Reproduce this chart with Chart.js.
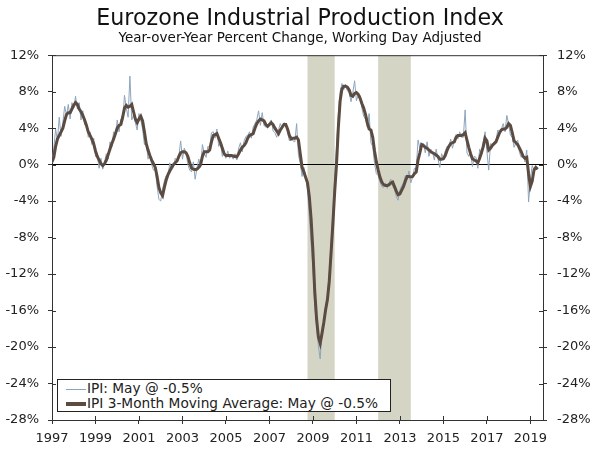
<!DOCTYPE html>
<html>
<head>
<meta charset="utf-8">
<title>Eurozone Industrial Production Index</title>
<script src="https://cdn.jsdelivr.net/npm/chart.js@4.4.1/dist/chart.umd.min.js"></script>
<style>
  body { margin: 0; background: #fff; }
  #wrap { position: relative; width: 600px; height: 450px; }
  #legend {
    position: absolute; left: 57px; top: 379px; width: 332px; height: 31px;
    border: 1px solid #222; background: #fff;
    font: 13.7px "DejaVu Sans", Verdana, sans-serif; color: #222;
  }
  #legend .row { position: absolute; left: 8px; height: 15px; line-height: 15px; white-space: nowrap; }
  #legend .swatch { display: inline-block; width: 20px; vertical-align: middle; margin-right: 1px; }
</style>
</head>
<body>
<div id="wrap">
  <canvas id="ipiChart"></canvas>
  <div id="legend">
    <div class="row" style="top:1px"><span class="swatch" style="border-top:1px solid #8ca5be"></span>IPI: May @ -0.5%</div>
    <div class="row" style="top:16px"><span class="swatch" style="border-top:4px solid #5b4b41"></span>IPI 3-Month Moving Average: May @ -0.5%</div>
  </div>
</div>
<script>
// Dados mensais, jan/1997 - mai/2019 (% a/a)
const startYear = 1997;

const ipi = [
  0.2, 1.8, 3.9, 2.6, 5.2, 3.1, 4.6, 6.4, 5.4, 6.6, 5.0, 6.8,        // 1997
  6.2, 7.5, 6.1, 6.8, 4.9, 5.9, 4.4, 4.6, 3.0, 3.6, 2.2, 2.9,        // 1998
  0.9, 1.0, -0.4, 0.7, -0.5, 0.3, 1.2, 0.6, 2.5, 2.0, 3.6, 3.1,      // 1999
  4.9, 3.6, 5.0, 4.8, 7.6, 6.2, 5.2, 9.7, 4.9, 5.5, 4.6, 3.8,        // 2000
  5.6, 4.9, 3.9, 2.2, 2.5, 0.6, 1.1, 0.0, -0.6, -0.6, -2.4, -3.8,    // 2001
  -4.0, -2.7, -1.8, -1.2, -1.3, 0.2, -0.6, -0.3, 0.7, 0.3, 0.9, 2.6, // 2002
  0.6, 1.8, 1.3, 0.0, -0.6, -0.8, 0.3, -1.6, -0.4, 0.6, -0.3, 2.2,   // 2003
  1.3, 0.8, 2.0, 1.9, 3.5, 3.6, 2.9, 3.9, 2.0, 2.4, 0.9, 1.3,        // 2004
  0.7, 1.5, 0.7, 1.0, 0.6, 1.2, 0.5, 1.8, 2.4, 1.4, 2.6, 3.1,        // 2005
  3.2, 3.6, 2.9, 4.1, 4.5, 4.9, 5.9, 4.3, 5.7, 4.3, 4.1, 4.3,        // 2006
  4.6, 4.9, 3.7, 3.5, 3.0, 3.8, 4.5, 4.0, 4.6, 4.5, 3.6, 2.6,        // 2007
  3.1, 2.6, 2.5, 4.5, 1.0, 0.2, -1.3, -0.3, -1.2, -2.7, -5.8, -8.6,  // 2008
  -11.4, -15.5, -17.6, -19.9, -21.3, -18.2, -17.0, -15.5, -14.5, -12.0, -8.5, -5.0, // 2009
  -1.6, 1.9, 5.5, 8.0, 8.9, 8.2, 8.8, 8.1, 7.9, 6.9, 7.9, 9.2,       // 2010
  7.0, 7.6, 7.6, 6.2, 5.3, 5.0, 4.1, 5.6, 2.4, 2.0, 0.1, -1.0,       // 2011
  -1.2, -1.9, -2.4, -2.5, -2.0, -2.6, -2.0, -1.6, -2.4, -2.7, -3.5, -3.9, // 2012
  -2.8, -2.3, -2.0, -1.2, -1.6, -0.7, -2.0, -1.4, -0.4, -0.5, 2.7, 1.8,   // 2013
  2.2, 2.3, 1.3, 2.5, 0.9, 1.7, 1.4, 0.5, 1.7, 0.6, -0.3, 1.2,       // 2014
  0.7, 1.5, 2.0, 1.9, 2.8, 1.8, 2.6, 3.3, 2.8, 3.6, 3.0, 3.0,        // 2015
  6.0, 1.3, 0.9, 1.4, -0.2, 0.9, 0.8, -0.4, 1.7, 1.0, 2.5, 3.6,      // 2016
  1.5, -0.6, 2.3, 2.2, 2.5, 2.6, 3.8, 3.6, 3.9, 4.5, 3.6, 5.4,       // 2017
  4.4, 3.2, 3.0, 1.9, 2.4, 2.7, 1.3, 0.8, 1.1, 0.3, 1.6, -4.1,       // 2018
  -1.6, -0.1, -0.6, -0.2, -0.5                                       // 2019
];

const ipiMA = [
  0.3, 0.8, 2.0, 2.8, 3.2, 3.6, 4.0, 4.8, 5.5, 5.7, 5.7, 6.1,        // 1997
  6.5, 6.8, 6.6, 6.1, 5.8, 5.4, 4.9, 4.3, 3.6, 3.2, 2.8, 2.3,        // 1998
  1.5, 0.9, 0.5, 0.1, -0.1, 0.1, 0.5, 1.1, 1.7, 2.3, 2.8, 3.4,       // 1999
  4.0, 4.3, 4.4, 5.2, 6.2, 6.5, 6.3, 6.4, 6.6, 5.8, 5.0, 4.6,        // 2000
  5.0, 5.3, 4.8, 3.6, 2.3, 1.6, 1.0, 0.5, 0.1, -0.3, -1.3, -2.5,     // 2001
  -3.1, -3.4, -2.5, -1.7, -1.1, -0.7, -0.3, 0.0, 0.2, 0.4, 0.9, 1.3, // 2002
  1.4, 1.4, 1.3, 0.9, 0.2, -0.4, -0.5, -0.55, -0.5, -0.3, 0.0, 0.9,  // 2003
  1.4, 1.4, 1.4, 1.6, 2.5, 3.2, 3.3, 3.4, 2.9, 2.4, 1.8, 1.2,        // 2004
  1.0, 1.0, 1.0, 1.0, 0.95, 0.9, 0.85, 1.2, 1.6, 1.9, 2.1, 2.4,      // 2005
  2.9, 3.2, 3.3, 3.4, 4.0, 4.5, 4.8, 5.0, 4.9, 4.8, 4.4, 4.2,        // 2006
  4.4, 4.6, 4.4, 4.0, 3.7, 3.4, 3.8, 4.1, 4.4, 4.4, 3.9, 3.2,        // 2007
  2.8, 2.9, 2.9, 3.0, 2.7, 1.2, -0.3, -0.8, -1.4, -2.0, -3.5, -6.0,  // 2008
  -9.5, -13.9, -16.9, -18.9, -19.6, -18.5, -17.3, -15.9, -14.8, -12.8, -9.7, -6.5, // 2009
  -3.0, 0.0, 4.0, 7.0, 8.3, 8.6, 8.6, 8.5, 8.2, 7.6, 7.5, 7.8,       // 2010
  7.9, 7.7, 7.3, 6.7, 6.2, 5.5, 4.6, 3.9, 3.8, 3.0, 1.5, 0.3,        // 2011
  -0.6, -1.4, -1.9, -2.2, -2.3, -2.3, -2.2, -2.0, -1.9, -2.4, -2.9, -3.3, // 2012
  -3.2, -2.8, -2.4, -1.8, -1.3, -1.3, -1.35, -1.3, -1.0, -0.8, 0.5, 1.3,  // 2013
  2.2, 2.1, 1.9, 1.8, 1.6, 1.4, 1.3, 1.2, 1.05, 0.9, 0.6, 0.6,       // 2014
  0.65, 1.0, 1.55, 2.0, 2.3, 2.4, 2.5, 3.0, 3.2, 3.2, 3.2, 3.3,      // 2015
  3.5, 2.7, 1.9, 1.2, 0.65, 0.5, 0.4, 0.2, 0.7, 1.3, 2.0, 2.9,       // 2016
  2.6, 1.6, 1.8, 2.1, 2.3, 2.5, 3.0, 3.5, 3.8, 3.9, 3.9, 4.1,        // 2017
  4.5, 4.3, 3.5, 2.6, 2.4, 2.2, 1.8, 1.4, 0.9, 0.7, 0.8, -1.0,       // 2018
  -2.4, -1.8, -0.6, -0.3, -0.5                                       // 2019
];

// Períodos de recessão (anos fracionários)
const recessions = [[2008.75, 2010.0], [2012.0, 2013.5]];

const xTickYears = [1997, 1999, 2001, 2003, 2005, 2007, 2009, 2011, 2013, 2015, 2017, 2019];
const yTicks = [-28, -24, -20, -16, -12, -8, -4, 0, 4, 8, 12];

function toPoints(values) {
    return values.map((v, i) => ({ x: startYear + i / 12, y: v }));
}

// Sombreado de recessão, borda superior e marcas internas dos eixos
const decorPlugin = {
    id: 'decor',
    beforeDraw(chart) {
        const { ctx, chartArea: a, scales } = chart;
        ctx.save();
        ctx.fillStyle = '#d5d5c5';
        recessions.forEach(([s, e]) => {
            const x0 = scales.x.getPixelForValue(s);
            const x1 = scales.x.getPixelForValue(e);
            ctx.fillRect(x0, a.top, x1 - x0, a.bottom - a.top);
        });
        ctx.restore();
    },
    afterDraw(chart) {
        const { ctx, chartArea: a, scales } = chart;
        ctx.save();
        ctx.strokeStyle = '#333';
        ctx.lineWidth = 1;
        ctx.beginPath();
        ctx.moveTo(a.left, a.top + 0.5);
        ctx.lineTo(a.right, a.top + 0.5);
        yTicks.forEach(v => {
            const py = Math.round(scales.y.getPixelForValue(v)) + 0.5;
            ctx.moveTo(a.left, py); ctx.lineTo(a.left + 4, py);
            ctx.moveTo(a.right, py); ctx.lineTo(a.right - 4, py);
        });
        xTickYears.forEach(v => {
            const px = Math.round(scales.x.getPixelForValue(v)) + 0.5;
            ctx.moveTo(px, a.bottom); ctx.lineTo(px, a.bottom - 4);
        });
        ctx.stroke();
        ctx.restore();
    }
};

Chart.defaults.font.family = '"DejaVu Sans", Verdana, sans-serif';
Chart.defaults.font.size = 13;
Chart.defaults.color = '#222';

const yTickOpts = {
    stepSize: 4,
    padding: 9,
    callback: v => v + '%'
};

new Chart(document.getElementById('ipiChart'), {
    type: 'line',
    data: {
        datasets: [
            {
                label: 'IPI 3-Month Moving Average: May @ -0.5%',
                data: toPoints(ipiMA),
                borderColor: '#5b4b41',
                borderWidth: 3,
                pointRadius: 0,
                order: 0
            },
            {
                label: 'IPI: May @ -0.5%',
                data: toPoints(ipi),
                borderColor: '#8ca5be',
                borderWidth: 1,
                pointRadius: 0,
                order: 1
            }
        ]
    },
    options: {
        responsive: true,
        maintainAspectRatio: false,
        animation: false,
        layout: { padding: 0 },
        plugins: {
            legend: { display: false },
            tooltip: { enabled: false },
            title: {
                display: true,
                text: 'Eurozone Industrial Production Index',
                color: '#111',
                font: { size: 22.2, weight: 'normal', lineHeight: 1.0 },
                padding: { top: 8, bottom: 0 }
            },
            subtitle: {
                display: true,
                text: 'Year-over-Year Percent Change, Working Day Adjusted',
                color: '#111',
                font: { size: 13.5, lineHeight: 1.2 },
                padding: { top: 0.5, bottom: 8.3 }
            }
        },
        scales: {
            x: {
                type: 'linear',
                min: 1997,
                max: 2019.58,
                afterBuildTicks: s => { s.ticks = xTickYears.map(v => ({ value: v })); },
                afterFit: s => { s.height = 30; },
                ticks: { callback: v => String(v), autoSkip: false, maxRotation: 0, padding: 7 },
                grid: { drawOnChartArea: false, tickLength: 4, tickColor: '#333' },
                border: { color: '#333' }
            },
            y: {
                position: 'left',
                min: -28,
                max: 12,
                afterFit: s => { s.width = 52; },
                ticks: yTickOpts,
                grid: {
                    color: c => (c.tick && c.tick.value === 0) ? '#000' : 'rgba(0,0,0,0)',
                    tickColor: '#333',
                    tickLength: 4
                },
                border: { color: '#333' }
            },
            y2: {
                position: 'right',
                min: -28,
                max: 12,
                afterFit: s => { s.width = 57; },
                ticks: Object.assign({}, yTickOpts, { padding: 10 }),
                grid: { drawOnChartArea: false, tickColor: '#333', tickLength: 4 },
                border: { color: '#333' }
            }
        }
    },
    plugins: [decorPlugin]
});
</script>
</body>
</html>
